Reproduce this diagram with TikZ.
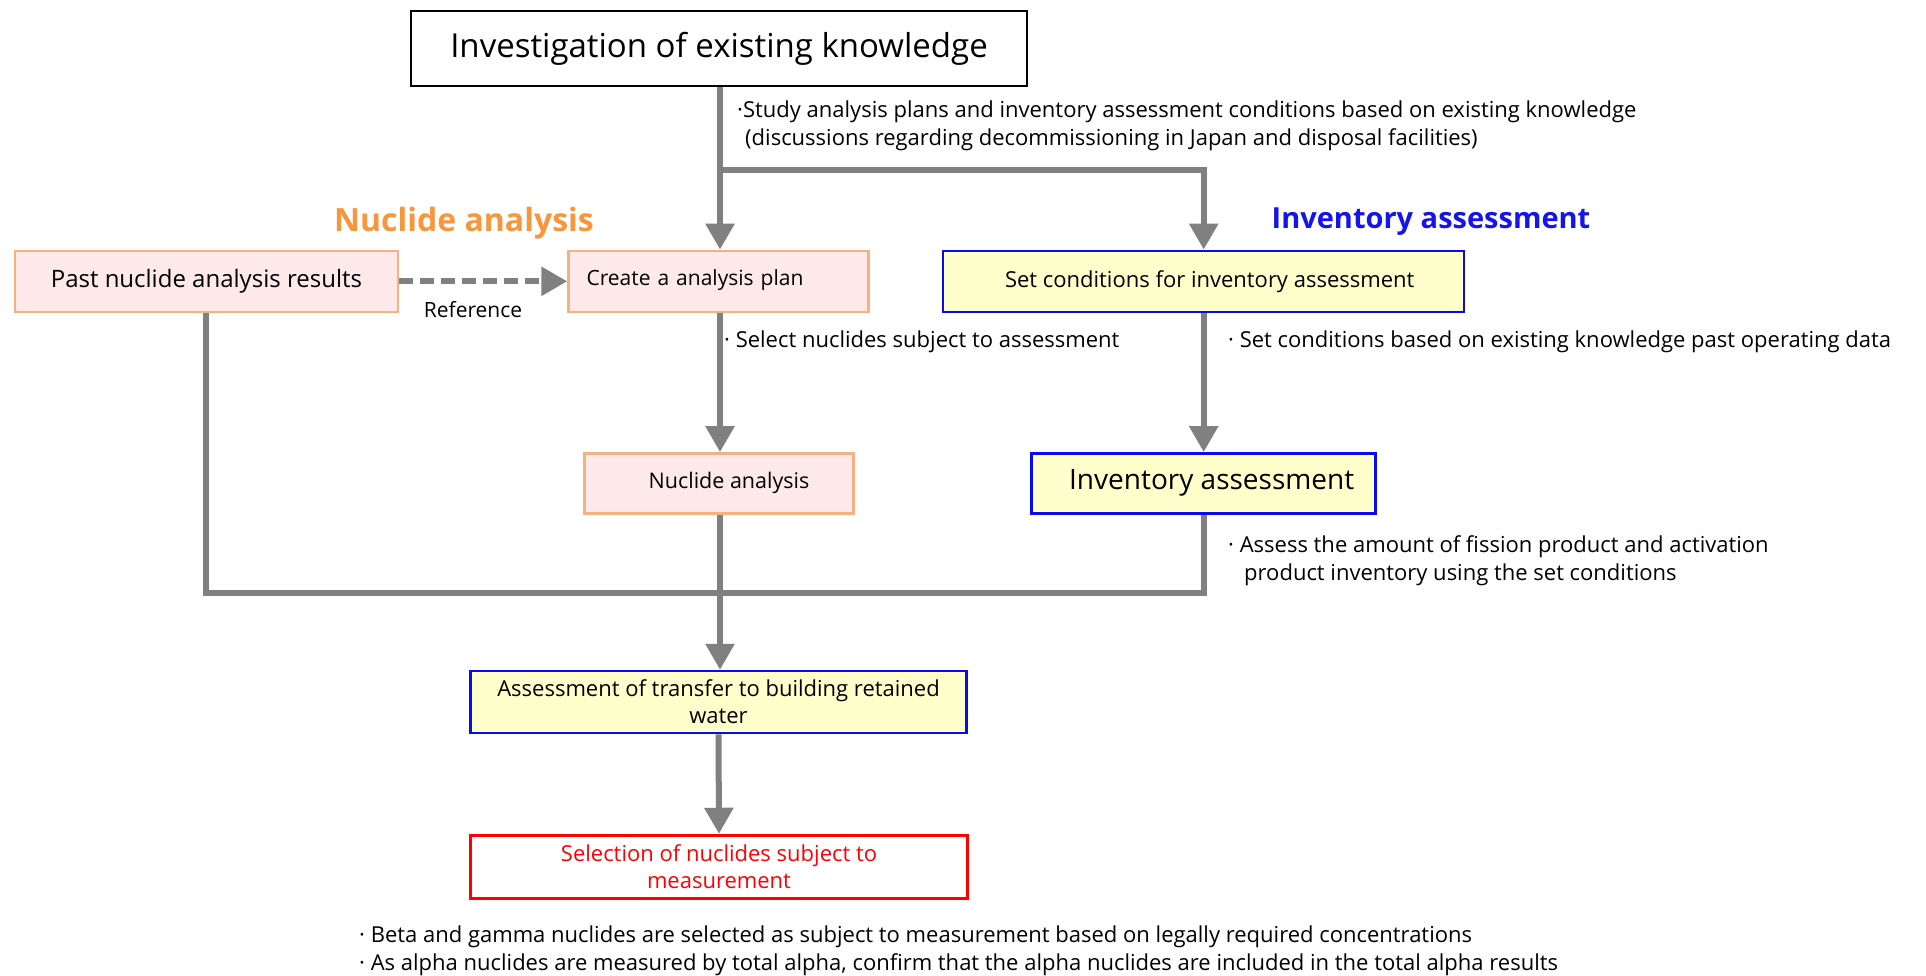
\documentclass[tikz,border=0pt]{standalone}
\usepackage{fontspec}
\setmainfont{Open Sans}
\usetikzlibrary{arrows.meta}
\definecolor{arrgray}{RGB}{128,128,128}
\definecolor{pinkfill}{RGB}{253,233,233}
\definecolor{orangeline}{RGB}{246,176,130}
\definecolor{headorange}{RGB}{247,150,60}
\definecolor{headblue}{RGB}{20,20,235}
\definecolor{yellowfill}{RGB}{255,255,204}
\definecolor{boxblue}{RGB}{10,10,240}
\definecolor{boxred}{RGB}{255,0,0}
\tikzset{
  x=1pt, y=-1pt,
  txt/.style={font=\fontsize{22}{27}\selectfont, inner sep=0pt},
  pinkbox/.style={draw=orangeline, fill=pinkfill, line width=2.5pt, inner sep=0pt, font=\fontsize{22}{27}\selectfont},
  yelbox/.style={draw=boxblue, fill=yellowfill, line width=2.5pt, inner sep=0pt, font=\fontsize{22}{27}\selectfont},
  conn/.style={draw=arrgray, line width=6pt},
  arr/.style={conn, -{Triangle[width=28pt,length=26pt]}},
  heading/.style={inner sep=0pt},
}
\begin{document}
\begin{tikzpicture}
\useasboundingbox[fill=white] (0,0) rectangle (1926,975);
% boxes
\node[draw=black, line width=2pt, minimum width=616pt, minimum height=75pt, inner sep=0pt,
      font=\fontsize{33}{38}\selectfont] (top) at (719,48.5) {\raisebox{-4pt}{Investigation of existing knowledge}};
\node[pinkbox, minimum width=383pt, minimum height=61pt, font=\fontsize{24}{28}\selectfont] (past) at (206.4,281.3) {Past nuclide analysis results};
\node[pinkbox, minimum width=300pt, minimum height=61pt, text width=264pt, align=left, font=\fontsize{21}{26}\selectfont] (create) at (718.5,281.3) {\raisebox{7pt}{Create a analysis plan}};
\node[yelbox, minimum width=521pt, minimum height=61pt] (set) at (1203.7,281.3) {\hspace*{12pt}Set conditions for inventory assessment};
\node[pinkbox, minimum width=269pt, minimum height=60pt, font=\fontsize{21.5}{26}\selectfont] (nuc) at (719,483.3) {\hspace*{20pt}Nuclide analysis};
\node[yelbox, minimum width=344pt, minimum height=60pt, font=\fontsize{28}{32}\selectfont] (inv) at (1203.7,483.3) {\hspace*{16pt}Inventory assessment};
\node[yelbox, minimum width=496pt, minimum height=62pt, align=center] (assess) at (718.5,702) {Assessment of transfer to building retained\\water};
\node[draw=boxred, fill=white, line width=3.5pt, minimum width=497pt, minimum height=63pt, inner sep=0pt, align=center, text=boxred, font=\fontsize{22}{27}\selectfont] (sel) at (719,867) {Selection of nuclides subject to\\measurement};
% headings
\node[heading, text=headorange, font=\fontsize{32}{36}\selectfont\bfseries] (hnuc) at (464,223) {Nuclide analysis};
\node[heading, text=headblue, font=\fontsize{29}{34}\selectfont\bfseries] (hinv) at (1431,221.5) {Inventory assessment};
% connector coordinates
\coordinate (col) at (720,0);
\coordinate (br) at (720,169.5);
\coordinate (merge) at (720,593.3);
% connectors
\draw[arr] (col |- top.south) -- (col |- create.north);
\draw[arr] (br) -| (set.north);
\draw[arr] (col |- create.south) -- (col |- nuc.north);
\draw[arr] (set.south) -- (inv.north);
\draw[conn] (past.south) |- (merge) -| (inv.south);
\draw[arr] (col |- nuc.south) -- (col |- assess.north);
\draw[arr] (assess.south) -- (sel.north);
\draw[arr, dash pattern=on 14pt off 7pt] (past.east) -- (create.west);
% texts
\node[txt, anchor=south, font=\fontsize{21}{26}\selectfont] (ref) at (473,318) {Reference};
\node[txt, anchor=base west] (t1) at (737,117) {·Study analysis plans and inventory assessment conditions based on existing knowledge};
\node[txt, anchor=base west] (t2) at (745,145) {(discussions regarding decommissioning in Japan and disposal facilities)};
\node[txt, anchor=base west] (t3) at (724,347) {· Select nuclides subject to assessment};
\node[txt, anchor=base west] (t4) at (1228,347) {· Set conditions based on existing knowledge past operating data};
\node[txt, anchor=base west] (t5) at (1228,552) {· Assess the amount of fission product and activation};
\node[txt, anchor=base west] (t6) at (1244,580) {product inventory using the set conditions};
\node[txt, anchor=base west] (t7) at (359,942) {· Beta and gamma nuclides are selected as subject to measurement based on legally required concentrations};
\node[txt, anchor=base west] (t8) at (359,970) {· As alpha nuclides are measured by total alpha, confirm that the alpha nuclides are included in the total alpha results};
\end{tikzpicture}
\end{document}
